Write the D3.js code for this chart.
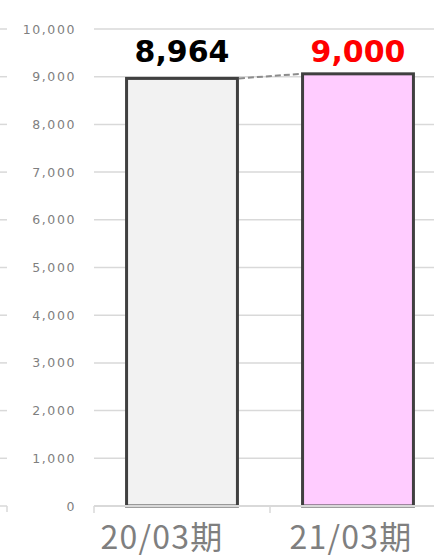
<!DOCTYPE html>
<html>
<head>
<meta charset="utf-8">
<script src="https://cdn.jsdelivr.net/npm/d3@7"></script>
<style>
  body { margin: 0; background: #fff; }
</style>
</head>
<body>
<div id="chart"></div>
<script>
"use strict";

// data
var categories = ["20/03期", "21/03期"];
var values = [8964, 9060];
var valueLabels = ["8,964", "9,000"];
var fills = ["#f2f2f2", "#ffccff"];
var labelColors = ["#000000", "#ff0000"];
var yTicks = [0, 1000, 2000, 3000, 4000, 5000, 6000, 7000, 8000, 9000, 10000];
// category labels sit a bit left of the bar centres in the original
var categoryShift = [-20, -7];

var width = 434, height = 559;
var plotLeft = 94, plotRight = 446, plotTop = 29, plotBottom = 506;
var formatNumber = d3.format(",");

var svg = d3.select("#chart").append("svg")
    .attr("width", width)
    .attr("height", height);

var x = d3.scaleBand()
    .domain(categories)
    .range([plotLeft, plotRight])
    .paddingInner(0.37)
    .paddingOuter(0.185);

var y = d3.scaleLinear()
    .domain([0, 10000])
    .range([plotBottom, plotTop]);

// gridlines
svg.append("g").selectAll("line")
    .data(yTicks.filter(function (d) { return d > 0; }))
    .enter().append("line")
    .attr("x1", plotLeft).attr("x2", width)
    .attr("y1", function (d) { return y(d); })
    .attr("y2", function (d) { return y(d); })
    .attr("stroke", "#d9d9d9")
    .attr("stroke-width", 1.5);

// little dashes on the far left edge
svg.append("g").selectAll("line")
    .data(yTicks)
    .enter().append("line")
    .attr("x1", 0).attr("x2", 7)
    .attr("y1", function (d) { return y(d); })
    .attr("y2", function (d) { return y(d); })
    .attr("stroke", "#d9d9d9")
    .attr("stroke-width", 1.5);
svg.append("line")
    .attr("x1", 7).attr("x2", 7)
    .attr("y1", y(0)).attr("y2", y(0) + 6)
    .attr("stroke", "#d9d9d9")
    .attr("stroke-width", 1.5);

// y tick labels
svg.append("g").selectAll("text")
    .data(yTicks)
    .enter().append("text")
    .attr("x", 76)
    .attr("y", function (d) { return y(d); })
    .attr("dy", "0.36em")
    .attr("text-anchor", "end")
    .attr("fill", "#7f7f7f")
    .style("font-family", "'DejaVu Sans', Verdana, sans-serif")
    .style("font-size", "12.5px")
    .style("letter-spacing", "1.6px")
    .text(function (d) { return formatNumber(d); });

// bars
svg.append("g").selectAll("rect")
    .data(categories)
    .enter().append("rect")
    .attr("x", function (d) { return x(d); })
    .attr("y", function (d, i) { return y(values[i]); })
    .attr("width", x.bandwidth())
    .attr("height", function (d, i) { return y(0) - y(values[i]); })
    .attr("fill", function (d, i) { return fills[i]; })
    .attr("stroke", "#404040")
    .attr("stroke-width", 3);

// category axis line with boundary ticks (drawn over the bar bottoms)
svg.append("line")
    .attr("x1", plotLeft).attr("x2", width)
    .attr("y1", y(0)).attr("y2", y(0))
    .attr("stroke", "#d9d9d9")
    .attr("stroke-width", 2);
svg.append("g").selectAll("line")
    .data(categories)
    .enter().append("line")
    .attr("x1", function (d) { return x(d) - x.step() * x.paddingOuter(); })
    .attr("x2", function (d) { return x(d) - x.step() * x.paddingOuter(); })
    .attr("y1", y(0)).attr("y2", y(0) + 7)
    .attr("stroke", "#d9d9d9")
    .attr("stroke-width", 1.5);

// dashed connector between bar tops
svg.append("line")
    .attr("x1", x(categories[0]) + x.bandwidth() + 1.5)
    .attr("y1", y(values[0]))
    .attr("x2", x(categories[1]) - 1.5)
    .attr("y2", y(values[1]))
    .attr("stroke", "#8c8c8c")
    .attr("stroke-width", 2)
    .attr("stroke-dasharray", "6,3");

// value labels
var labelY = y(d3.max(values)) - 12;
svg.append("g").selectAll("text")
    .data(categories)
    .enter().append("text")
    .attr("x", function (d) { return x(d) + x.bandwidth() / 2; })
    .attr("y", labelY)
    .attr("text-anchor", "middle")
    .attr("fill", function (d, i) { return labelColors[i]; })
    .style("font-family", "'DejaVu Sans', Verdana, sans-serif")
    .style("font-weight", "bold")
    .style("font-size", "30px")
    .text(function (d, i) { return valueLabels[i]; });

// category labels
svg.append("g").selectAll("text")
    .data(categories)
    .enter().append("text")
    .attr("x", function (d, i) { return x(d) + x.bandwidth() / 2 + categoryShift[i]; })
    .attr("y", 549)
    .attr("text-anchor", "middle")
    .attr("fill", "#7f7f7f")
    .style("font-family", "'Noto Sans CJK JP', sans-serif")
    .style("font-size", "32px")
    .style("letter-spacing", "1.2px")
    .text(function (d) { return d; });
</script>
</body>
</html>
